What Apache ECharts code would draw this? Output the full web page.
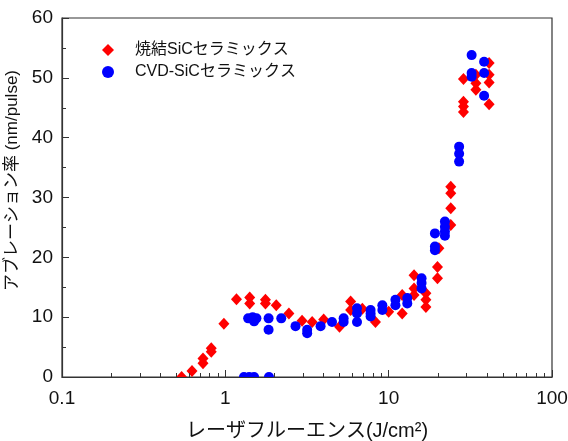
<!DOCTYPE html>
<html>
<head>
<meta charset="utf-8">
<script src="https://cdn.jsdelivr.net/npm/echarts@6/dist/echarts.min.js"></script>
<style>html,body{margin:0;padding:0;background:#fff;}#c{width:568px;height:441px;}</style>
</head>
<body>
<div id="c"></div>
<script>
const seriesNames = ['焼結SiCセラミックス', 'CVD-SiCセラミックス'];
const xTickLabels = [0.1, 1, 10, 100];
const xMinorTicks = [0.2,0.3,0.4,0.5,0.6,0.7,0.8,0.9,2,3,4,5,6,7,8,9,20,30,40,50,60,70,80,90];
const yTickLabels = [0, 10, 20, 30, 40, 50, 60];

const sinteredX = [0.54,0.625,0.73,0.73,0.82,0.82,0.98,1.17,1.41,1.41,1.76,1.76,2.05,2.45,2.95,3.4,4.0,5.0,5.85,5.85,6.9,8.3,10.0,12.1,12.1,14.3,14.3,14.3,16.9,16.9,16.9,19.9,19.9,20.3,24.0,24.0,24.0,24.0,28.7,28.7,28.7,28.7,34.2,34.2,34.2,41.2,41.2,41.2,41.2];
const sinteredY = [0,1.0,2.3,3.1,4.2,4.8,8.9,13.0,13.3,12.3,12.9,12.3,12.0,10.6,9.4,9.2,9.6,8.4,12.6,11.2,11.4,9.2,10.9,13.7,10.6,17.0,14.8,13.7,14.0,12.9,11.7,18.4,16.5,21.5,31.8,30.7,28.2,25.4,46.0,45.2,44.3,49.8,50.5,49.1,48.0,52.5,50.5,49.2,45.6];

const cvdX = [1.3,1.4,1.5,1.85,1.38,1.47,1.55,1.5,1.84,1.84,2.2,2.69,3.17,3.17,3.83,4.5,5.3,5.3,6.4,6.4,6.4,7.75,7.75,7.75,9.15,9.15,11.0,11.0,13.0,13.0,15.9,15.9,15.9,19.2,19.2,19.2,22.1,22.1,22.1,22.1,27.0,27.0,27.0,32.2,32.2,32.2,38.4,38.4,38.4];
const cvdY = [0,0,0,0,9.8,10.0,9.8,9.3,9.8,7.9,9.8,8.5,7.9,7.3,8.5,9.2,9.8,9.2,11.5,10.6,9.2,11.2,10.6,10.1,12.0,11.2,12.9,12.0,13.2,12.3,16.5,15.7,14.8,24.0,21.8,21.2,26.0,25.1,24.3,23.6,38.5,37.3,36.0,53.8,50.8,50.2,52.7,50.8,47.0];

const pair = (xs, ys) => xs.map((x, i) => [x, ys[i]]);
const FONT = '"Liberation Sans", "Noto Sans CJK JP", sans-serif';
const AX = '#333';
const gridRect = {left: 62, right: 16, top: 18, bottom: 64, outerBoundsMode: 'none', containLabel: false};

const chart = echarts.init(document.getElementById('c'), null, {renderer: 'canvas'});
chart.setOption({
  animation: false,
  backgroundColor: '#fff',
  textStyle: {fontFamily: FONT},
  grid: [
    Object.assign({show: true, borderColor: AX, borderWidth: 1.2, backgroundColor: 'transparent', z: 0}, gridRect),
    Object.assign({show: false}, gridRect)
  ],
  legend: {
    orient: 'vertical',
    left: 102, top: 42, padding: 0,
    itemWidth: 12, itemHeight: 12, itemGap: 6,
    textStyle: {fontSize: 16, color: '#111', fontFamily: FONT, padding: [0, 0, 0, 16]},
    data: [{name: seriesNames[0], icon: 'diamond'}, {name: seriesNames[1], icon: 'circle'}]
  },
  xAxis: [{
    type: 'log', logBase: 10, min: 0.1, max: 100, gridIndex: 0, z: 5,
    name: 'レーザフルーエンス(J/cm²)', nameLocation: 'middle', nameGap: 44,
    nameTextStyle: {fontSize: 20, color: '#111', fontFamily: FONT},
    axisLine: {show: true, lineStyle: {color: AX, width: 1.2}},
    axisTick: {show: true, inside: true, length: 7, lineStyle: {color: AX, width: 1}},
    axisLabel: {fontSize: 19, color: '#111', margin: 12, formatter: v => String(v)},
    splitLine: {show: false}, minorTick: {show: false}
  }, {
    type: 'value', min: -1, max: 2, gridIndex: 1, position: 'bottom', z: 5,
    axisLine: {show: false},
    axisTick: {show: true, inside: true, length: 4, lineStyle: {color: AX, width: 1}, customValues: xMinorTicks.map(v => Math.log10(v))},
    axisLabel: {show: false}, splitLine: {show: false}
  }],
  yAxis: [{
    type: 'value', min: 0, max: 60, interval: 10, gridIndex: 0, z: 5,
    name: 'アブレーション率 (nm/pulse)', nameLocation: 'middle', nameGap: 33, nameRotate: 90,
    nameTextStyle: {fontSize: 17, color: '#111', fontFamily: FONT, padding: [0, 0, 0, 34]},
    axisLine: {show: true, lineStyle: {color: AX, width: 1.2}},
    axisTick: {show: true, inside: true, length: 7, lineStyle: {color: AX, width: 1}},
    minorTick: {show: true, splitNumber: 2, length: 4, lineStyle: {color: AX, width: 1}},
    axisLabel: {fontSize: 19, color: '#111', margin: 9},
    splitLine: {show: false}
  }, {
    type: 'value', min: 0, max: 60, gridIndex: 1, show: false
  }],
  series: [{
    name: seriesNames[0], type: 'scatter', symbol: 'diamond', symbolSize: [11, 12],
    itemStyle: {color: '#ff0000', opacity: 1}, data: pair(sinteredX, sinteredY), z: 2
  }, {
    name: seriesNames[1], type: 'scatter', symbol: 'circle', symbolSize: 10,
    itemStyle: {color: '#0000ff', opacity: 1}, data: pair(cvdX, cvdY), z: 3
  }]
});

// Clip markers at the bottom edge of the plot (as in the original), using the library's own scale
const pL = chart.convertToPixel({gridIndex: 0}, [0.1, 0]);
const pR = chart.convertToPixel({gridIndex: 0}, [100, 0]);
chart.setOption({
  graphic: [{
    type: 'rect', silent: true, z: 4,
    shape: {x: pL[0] + 1, y: pL[1] + 1, width: pR[0] - pL[0] - 2, height: 8},
    style: {fill: '#fff'}
  }]
});
</script>
</body>
</html>
